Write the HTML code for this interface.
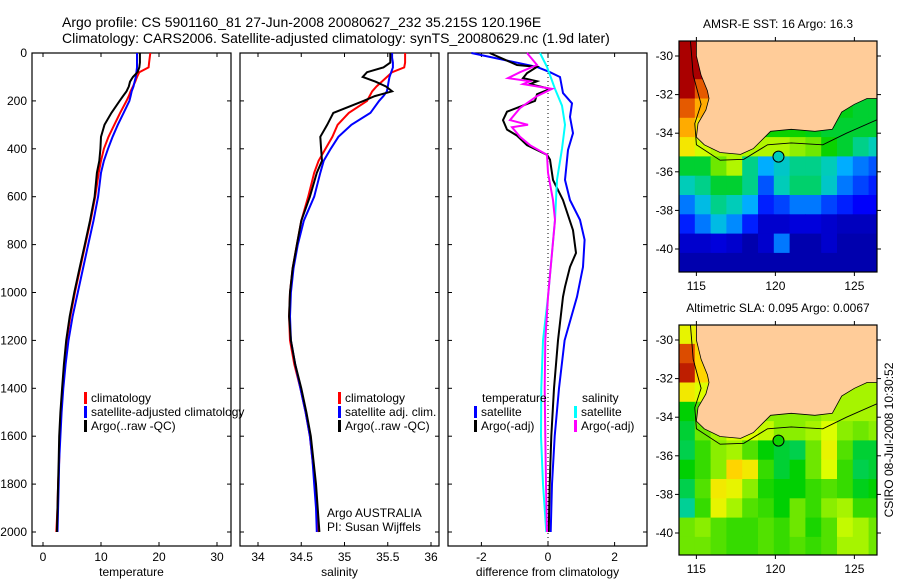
<!DOCTYPE html>
<html><head><meta charset="utf-8">
<style>
html,body{margin:0;padding:0;background:#fff;}
svg{display:block;font-family:"Liberation Sans",sans-serif;}
text{fill:#000;}
</style></head>
<body>
<svg id="c" width="900" height="580" viewBox="0 0 900 580">
<defs>
<clipPath id="clipM1"><rect x="679" y="41" width="198" height="231"/></clipPath>
<clipPath id="clipM2"><rect x="679" y="325" width="198" height="230"/></clipPath>
<clipPath id="clipP1"><rect x="32" y="46" width="199" height="500"/></clipPath>
<clipPath id="clipP2"><rect x="240" y="46" width="199" height="500"/></clipPath>
<clipPath id="clipP3"><rect x="448" y="46" width="199" height="500"/></clipPath>
</defs>
<text x="62" y="27" font-size="14">Argo profile: CS 5901160_81 27-Jun-2008 20080627_232 35.215S 120.196E</text>
<text x="62" y="43" font-size="14">Climatology: CARS2006. Satellite-adjusted climatology: synTS_20080629.nc (1.9d later)</text>
</svg>
<script>
// ---------- profile data ----------
const depths = [0,20,40,60,80,100,120,140,160,180,200,250,300,350,400,450,500,600,700,800,900,1000,1100,1200,1300,1400,1500,1600,1700,1800,1900,2000];
const tempClim = [18.5,18.4,18.3,18.2,16.6,16.2,15.9,15.5,15.1,14.8,14.4,13.3,12.3,11.3,10.5,10.0,9.6,9.0,8.2,7.3,6.4,5.5,4.7,4.1,3.7,3.4,3.1,2.9,2.8,2.6,2.5,2.3];
const tempSat = [16.2,16.2,16.2,16.2,16.1,16.0,15.8,15.6,15.3,15.1,14.9,13.9,12.9,12.0,11.2,10.5,10.0,9.5,8.7,7.8,6.9,6.0,5.1,4.4,3.9,3.5,3.2,3.0,2.8,2.7,2.6,2.5];
const tempArgo = [16.7,16.7,16.7,16.6,16.3,15.5,15.0,14.8,14.4,13.8,13.2,11.8,10.6,10.0,9.9,9.7,9.3,8.9,8.1,7.2,6.3,5.4,4.6,4.0,3.6,3.3,3.0,2.8,2.7,2.6,2.5,2.4];
const salClim = [35.70,35.70,35.70,35.69,35.55,35.49,35.43,35.37,35.32,35.29,35.26,35.05,34.92,34.86,34.78,34.70,34.65,34.58,34.50,34.45,34.40,34.37,34.36,34.37,34.42,34.49,34.55,34.60,34.63,34.66,34.68,34.70];
const salSat = [35.55,35.55,35.56,35.56,35.54,35.52,35.51,35.50,35.49,35.45,35.40,35.30,35.08,34.93,34.84,34.76,34.72,34.65,34.53,34.46,34.41,34.38,34.37,34.38,34.43,34.49,34.55,34.60,34.63,34.65,34.67,34.68];
const salArgo = [35.53,35.53,35.53,35.45,35.26,35.21,35.36,35.48,35.55,35.35,35.22,34.87,34.80,34.72,34.73,34.74,34.68,34.60,34.50,34.45,34.40,34.37,34.36,34.38,34.43,34.50,34.56,34.61,34.64,34.67,34.69,34.71];
// difference panel data
const dTempSatDepth = [0,58,80,100,167,210,267,335,405,530,614,697,780,893,1018,1200,1400,1600,1800,2000];
const dTempSat = [-2.3,-0.33,0.06,0.36,0.45,0.72,0.66,0.75,0.6,0.51,0.66,0.96,1.1,1.05,0.87,0.5,0.33,0.2,0.12,0.08];
const dTempArgoDepth = [0,50,58,84,105,118,130,150,172,200,245,280,320,345,385,425,445,530,614,740,835,893,976,1018,1200,1400,1600,1800,2000];
const dTempArgo = [-1.75,-0.93,-0.33,-0.63,-0.75,-0.33,-0.54,0.06,-0.33,-0.39,-1.23,-1.35,-1.23,-0.93,-0.63,-0.03,0.06,0.15,0.45,0.75,0.84,0.66,0.51,0.45,0.3,0.18,0.1,0.05,0.02];
const dSalArgoDepth = [0,50,80,105,118,130,150,180,230,280,300,310,350,385,425,500,614,697,835,1018,1200,1400,1600,1800,2000];
const dSalArgo = [-0.63,-0.33,-0.84,-1.2,-0.54,-0.75,0.12,-0.33,-0.84,-1.14,-0.6,-1.08,-0.84,-0.54,-0.03,0,0.15,0.21,0.12,0,-0.08,-0.1,-0.08,-0.06,-0.03];
const dSalSatDepth = [0,58,150,220,300,400,530,697,835,1018,1200,1400,1600,1800,2000];
const dSalSat = [-0.24,-0.03,0.21,0.42,0.51,0.42,0.27,0.21,0.12,0,-0.15,-0.2,-0.21,-0.15,-0.05];
const depthTicks = [0,200,400,600,800,1000,1200,1400,1600,1800,2000];
const tempTicks = [0,10,20,30];
const salTicks = [34,34.5,35,35.5,36];
const diffTicks = [-2,0,2];
// ---------- map data (1-degree cells, rows lat -29.7 .. -40.7, cols lon 114.4 .. 126.4) ----------
const sstGrid = [
[20,19.5,18.5,18,17,17,17,17,17,17,17,17,17],
[20,19.5,18.5,17.5,17,17,17,17,17,17,17,17,17],
[19.6,19,18,17.5,17,17,17,17,17,17,17,17,17],
[19,18.5,18,17.3,17,17,17,17,17,17,16.9,16.8,16.8],
[18.5,18,17.5,17.3,17,17,17,17,16.9,16.8,16.8,16.8,16.8],
[18,17.6,17.5,17.5,17.5,17.5,17.5,17.4,17.3,17,16.8,16.5,16.3],
[16.8,16.8,17.3,17.5,16.5,15.8,16.2,16.5,16.5,16.3,15.8,15.5,15.3],
[16.3,16.5,16.8,16.8,16.5,15.3,16.3,16.6,16.6,16.2,15.5,15.2,15.0],
[15.5,16,16.5,16.3,15.8,15.0,15.2,15.5,15.5,15.2,15,14.8,14.8],
[15.0,15.5,16,15.6,15.0,14.5,14.5,14.6,14.6,14.5,14.4,14.4,14.4],
[14.5,14.5,14.6,14.5,14.3,14.5,15.5,14.3,14.3,14.5,14.3,14.3,14.3],
[14.3,14.3,14.3,14.3,14.3,14.3,14.3,14.3,14.3,14.3,14.3,14.3,14.3]];
const slaGrid = [
[0.1,0.12,0.06,0.05,0.05,0.05,0.05,0.05,0.05,0.05,0.05,0.05,0.05],
[0.25,0.15,0.08,0.05,0.05,0.05,0.05,0.05,0.05,0.05,0.05,0.05,0.05],
[0.28,0.15,0.08,0.05,0.05,0.05,0.05,0.05,0.05,0.05,0.05,0.05,0.05],
[0.12,0.08,0.05,0.05,0.05,0.05,0.05,0.05,0.05,0.05,0.06,0.06,0.06],
[0,0.03,0.05,0.05,0.05,0.05,0.05,0.05,0.05,0.06,0.06,0.06,0.06],
[-0.02,0.04,0.06,0.08,0.08,0.07,0.05,0.05,0.06,0.08,0.05,0.04,0.05],
[-0.03,0.02,0.05,0.06,0.03,0,-0.02,-0.03,0.04,0.1,0.03,-0.02,-0.02],
[0,0.02,0.05,0.15,0.12,0.02,-0.02,0,0.04,0.08,0.02,-0.03,-0.02],
[-0.03,0.03,0.12,0.1,0.05,0.01,0,0,0.02,0.03,0.02,-0.01,0],
[-0.06,0.02,0.1,0.06,0.03,0.02,0,0.04,0.02,0.05,0.06,0.02,0.02],
[0.04,0.05,0.03,0.02,0.02,0.03,0.02,0.04,0.01,0.03,0.07,0.06,0.04],
[0.04,0.04,0.03,0.02,0.02,0.03,0.02,0.03,0.02,0.03,0.06,0.06,0.04]];
const argoLon = 120.196, argoLat = -35.215, argoSST = 16.3, argoSLA = 0.0067;
const lonTicks = [115,120,125];
const latTicks = [-30,-32,-34,-36,-38,-40];
const coast = [[115.0,-29.0],[115.0,-30.0],[115.3,-31.0],[115.7,-31.8],[115.8,-32.2],[115.6,-32.8],[115.1,-33.5],[115.0,-34.2],[115.5,-34.6],[116.5,-35.0],[117.8,-35.1],[118.6,-34.8],[119.7,-33.9],[121.0,-33.8],[122.5,-33.9],[123.6,-33.8],[124.2,-32.9],[125.0,-32.5],[125.8,-32.2],[127,-32.2],[127,-29.0]];
const contour = [[114.6,-29.0],[114.8,-31.0],[115.3,-32.5],[114.9,-33.5],[115.0,-34.6],[116.5,-35.4],[118.0,-35.35],[119.5,-34.6],[121.0,-34.5],[123.0,-34.6],[124.5,-34.0],[127,-33.1]];

const NS='http://www.w3.org/2000/svg';
const svg=document.getElementById('c');
function mk(tag,attrs,parent){const e=document.createElementNS(NS,tag);for(const k in attrs)e.setAttribute(k,attrs[k]);(parent||svg).appendChild(e);return e;}
function txt(x,y,s,size,anchor,parent){const t=mk('text',{x:x,y:y,'font-size':size,'text-anchor':anchor||'start'},parent);t.textContent=s;return t;}

const yD = d => 53 + d*0.2395;
const xT = v => 43 + v*5.8;
const xS = v => 258 + (v-34)*86.5;
const xDf = v => 548 + v*33.3;

function panel(name,x0,xf,ticks,label,series){
  const g=mk('g',{});
  
  
  const fr=mk('rect',{x:x0,y:53,width:199,height:493,fill:'none',stroke:'#000','stroke-width':1.2},g);
  
  
  depthTicks.forEach(d=>{
    const y=yD(d);
    mk('line',{x1:x0,x2:x0+4,y1:y,y2:y,stroke:'#000'},g);
    mk('line',{x1:x0+195,x2:x0+199,y1:y,y2:y,stroke:'#000'},g);
    if(x0===32){const t=txt(27,y+4,String(d),12,'end',g);
      
      }
  });
  ticks.forEach(v=>{
    const x=xf(v);
    mk('line',{x1:x,x2:x,y1:53,y2:57,stroke:'#000'},g);
    mk('line',{x1:x,x2:x,y1:542,y2:546,stroke:'#000'},g);
    const t=txt(x,561,String(v),12,'middle',g);
    
    
  });
  const xl=txt(x0+99.5,576,label,12,'middle',g);
  
  
  const clipId={32:'clipP1',240:'clipP2',448:'clipP3'}[x0];
  const lg=mk('g',{'clip-path':'url(#'+clipId+')'},g);
  if(x0===448){
    const z=mk('line',{x1:548,x2:548,y1:53,y2:546,stroke:'#000','stroke-dasharray':'1,3'},lg);
    
    
  }
  series.forEach(s=>{
    const pts=s.v.map((v,i)=>xf(v).toFixed(1)+','+yD(s.d[i]).toFixed(1)).join(' ');
    const p=mk('polyline',{points:pts,fill:'none',stroke:s.c,'stroke-width':2,'stroke-linejoin':'miter'},lg);
    
    
  });
  return g;
}
panel('temperature-panel',32,xT,tempTicks,'temperature',[
  {n:'temp-climatology-line',c:'#ff0000',d:depths,v:tempClim},
  {n:'temp-satellite-line',c:'#0000ff',d:depths,v:tempSat},
  {n:'temp-argo-line',c:'#000000',d:depths,v:tempArgo}]);
panel('salinity-panel',240,xS,salTicks,'salinity',[
  {n:'sal-climatology-line',c:'#ff0000',d:depths,v:salClim},
  {n:'sal-satellite-line',c:'#0000ff',d:depths,v:salSat},
  {n:'sal-argo-line',c:'#000000',d:depths,v:salArgo}]);
panel('difference-panel',448,xDf,diffTicks,'difference from climatology',[
  {n:'diff-temp-satellite-line',c:'#0000ff',d:dTempSatDepth,v:dTempSat},
  {n:'diff-temp-argo-line',c:'#000000',d:dTempArgoDepth,v:dTempArgo},
  {n:'diff-sal-satellite-line',c:'#00ffff',d:dSalSatDepth,v:dSalSat},
  {n:'diff-sal-argo-line',c:'#ff00ff',d:dSalArgoDepth,v:dSalArgo}]);

function legend(name,items,x){
  const g=mk('g',{});
  
  
  items.forEach((it,i)=>{
    const y=398+i*14;
    if(it.c) mk('rect',{x:x,y:y-6,width:3,height:12,fill:it.c},g);
    const t=txt(x+(it.c?7:0)+(it.dx||0),y+4,it.t,12,'start',g);
    
    
  });
}
legend('temperature-legend',[{c:'#ff0000',t:'climatology'},{c:'#0000ff',t:'satellite-adjusted climatology'},{c:'#000',t:'Argo(..raw -QC)'}],84);
legend('salinity-legend',[{c:'#ff0000',t:'climatology'},{c:'#0000ff',t:'satellite adj. clim.'},{c:'#000',t:'Argo(..raw -QC)'}],338);
legend('diff-temp-legend',[{t:'temperature',dx:8},{c:'#0000ff',t:'satellite'},{c:'#000',t:'Argo(-adj)'}],474);
legend('diff-sal-legend',[{t:'salinity',dx:8},{c:'#00ffff',t:'satellite'},{c:'#ff00ff',t:'Argo(-adj)'}],574);
let t1=txt(327,517,'Argo AUSTRALIA',12,'start');


let t2=txt(327,531,'PI: Susan Wijffels',12,'start');



// ---------- maps ----------
const cmStops=[[0,[0,0,128]],[0.15,[0,0,255]],[0.33,[0,176,255]],[0.43,[0,208,176]],[0.54,[0,208,0]],[0.66,[220,255,0]],[0.76,[255,220,0]],[0.87,[255,128,0]],[1,[170,0,0]]];
function cmap(t){t=Math.max(0,Math.min(1,t));
  for(let i=1;i<cmStops.length;i++){ if(t<=cmStops[i][0]){const a=cmStops[i-1],b=cmStops[i];const f=(t-a[0])/(b[0]-a[0]);
    return 'rgb('+a[1].map((v,k)=>Math.round(v+(b[1][k]-v)*f)).join(',')+')';}}
  return 'rgb(170,0,0)';}
const mX = lon => 679 + (lon-113.9)*15.8;
function drawMap(name,top,latRef,grid,vmin,vmax,clip,title,argoVal){
  const mY = lat => latRef + (-30-lat)*19.3;
  const g=mk('g',{});
  
  
  const cg=mk('g',{'clip-path':'url(#'+clip+')'},g);
  grid.forEach((row,r)=>row.forEach((v,c)=>{
    const lon=113.9+c, lat=-29.2-r;
    const x=mX(lon), y=mY(lat);
    const cell=mk('rect',{x:x.toFixed(1),y:y.toFixed(1),width:16.3,height:19.8,fill:cmap((v-vmin)/(vmax-vmin))},cg);
    
    
  }));
  const land=mk('polygon',{points:coast.map(p=>mX(p[0]).toFixed(1)+','+mY(p[1]).toFixed(1)).join(' '),fill:'#ffcc99',stroke:'#000','stroke-width':0.8},cg);
  
  
  const ct=mk('polyline',{points:contour.map(p=>mX(p[0]).toFixed(1)+','+mY(p[1]).toFixed(1)).join(' '),fill:'none',stroke:'#000','stroke-width':0.9},cg);
  
  
  const m=mk('circle',{cx:mX(argoLon),cy:mY(argoLat),r:5.5,fill:cmap((argoVal-vmin)/(vmax-vmin)),stroke:'#000','stroke-width':1},g);
  
  
  const h = top===41?231:230;
  mk('rect',{x:679,y:top,width:198,height:h,fill:'none',stroke:'#000','stroke-width':1.2},g);
  lonTicks.forEach(l=>{const x=mX(l);
    mk('line',{x1:x,x2:x,y1:top+h,y2:top+h+4,stroke:'#000'},g);
    mk('line',{x1:x,x2:x,y1:top-4,y2:top,stroke:'#000'},g);
    const t=txt(x,top+h+18,String(l),12,'middle',g);
    
    });
  latTicks.forEach(l=>{const y=mY(l);
    mk('line',{x1:675,x2:679,y1:y,y2:y,stroke:'#000'},g);
    mk('line',{x1:877,x2:881,y1:y,y2:y,stroke:'#000'},g);
    const t=txt(673,y+4,String(l),12,'end',g);
    
    });
  const tt=txt(778,top-13,title,12,'middle',g);
  
  
}
drawMap('sst-map',41,56,sstGrid,14.0,19.5,'clipM1','AMSR-E SST: 16 Argo: 16.3',argoSST);
drawMap('sla-map',325,340,slaGrid,-0.35,0.3,'clipM2','Altimetric SLA: 0.095 Argo: 0.0067',argoSLA);
const st=txt(0,0,'CSIRO 08-Jul-2008 10:30:52',12,'middle');
st.setAttribute('transform','translate(893,440) rotate(-90)');


</script>
</body></html>
